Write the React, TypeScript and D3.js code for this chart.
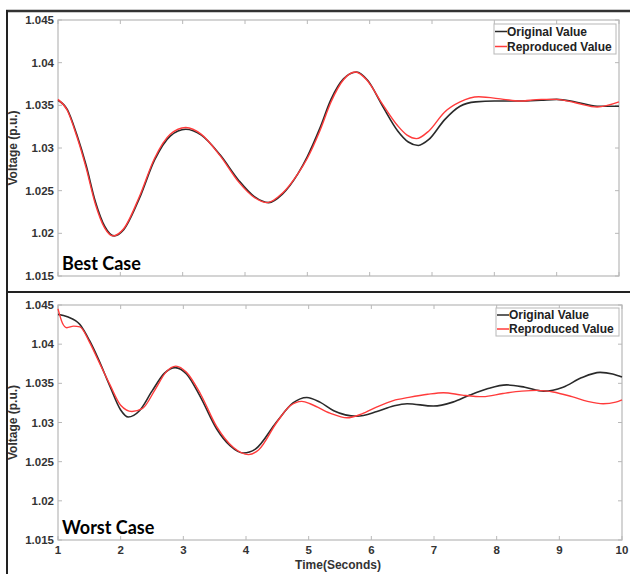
import React from "react";
import * as d3 from "d3";

// ---- Data ----
const yTicks = [1.015, 1.02, 1.025, 1.03, 1.035, 1.04, 1.045];
const yTickLabels = ["1.015", "1.02", "1.025", "1.03", "1.035", "1.04", "1.045"];
const xTicks = [1, 2, 3, 4, 5, 6, 7, 8, 9, 10];
const seriesNames = ["Original Value", "Reproduced Value"];

// Best case: [time, voltage]
const bestOriginal: [number, number][] = [
  [1.0, 1.0356], [1.15, 1.0345], [1.3, 1.0316], [1.45, 1.0280], [1.6, 1.0237], [1.75, 1.0208], [1.9, 1.0197],
  [2.05, 1.0204], [2.3, 1.0240], [2.55, 1.0286], [2.8, 1.0314], [3.05, 1.0322], [3.3, 1.0315],
  [3.6, 1.0292], [3.9, 1.0262], [4.15, 1.0243], [4.38, 1.0236], [4.6, 1.0246], [4.85, 1.0270],
  [5.0, 1.0290], [5.2, 1.0323], [5.38, 1.0357], [5.58, 1.0381], [5.79, 1.0389], [5.97, 1.0379], [6.2, 1.0350],
  [6.45, 1.0320], [6.62, 1.0307], [6.78, 1.0303], [6.95, 1.0310], [7.2, 1.0333], [7.45, 1.0349],
  [7.7, 1.0354], [8.0, 1.0355], [8.4, 1.0355], [8.75, 1.0356], [9.0, 1.0357], [9.3, 1.0354],
  [9.65, 1.0349], [10.0, 1.0349],
];
const bestReproduced: [number, number][] = [
  [1.0, 1.0357], [1.15, 1.0344], [1.3, 1.0314], [1.45, 1.0277], [1.6, 1.0234], [1.75, 1.0206], [1.88, 1.0197],
  [2.05, 1.0205], [2.3, 1.0242], [2.55, 1.0288], [2.8, 1.0316], [3.05, 1.0324], [3.3, 1.0316],
  [3.6, 1.0291], [3.9, 1.0260], [4.15, 1.0242], [4.36, 1.0236], [4.6, 1.0247], [4.85, 1.0270],
  [5.0, 1.0288], [5.2, 1.0320], [5.38, 1.0354], [5.58, 1.0380], [5.77, 1.0389], [5.95, 1.0380], [6.2, 1.0352],
  [6.45, 1.0326], [6.6, 1.0315], [6.75, 1.0311], [6.95, 1.0320], [7.2, 1.0342], [7.45, 1.0354],
  [7.75, 1.0360], [8.15, 1.0357], [8.4, 1.0355], [8.75, 1.0357], [9.0, 1.0357],
  [9.3, 1.0353], [9.65, 1.0348], [10.0, 1.0354],
];

// Worst case
const worstOriginal: [number, number][] = [
  [1.0, 1.0438], [1.15, 1.0435], [1.35, 1.0425], [1.5, 1.0405], [1.65, 1.0380], [1.83, 1.0346],
  [2.0, 1.0316], [2.12, 1.0307], [2.3, 1.0315], [2.5, 1.0340], [2.7, 1.0363], [2.87, 1.0370],
  [3.05, 1.0362], [3.27, 1.0333], [3.53, 1.0292], [3.75, 1.0270], [3.96, 1.0261], [4.15, 1.0266],
  [4.49, 1.0301], [4.75, 1.0325], [4.97, 1.0332], [5.18, 1.0326], [5.4, 1.0315], [5.77, 1.0308],
  [6.09, 1.0314], [6.35, 1.0321], [6.57, 1.0324], [6.99, 1.0321], [7.3, 1.0326], [7.57, 1.0335],
  [7.85, 1.0343], [8.16, 1.0348], [8.45, 1.0345], [8.75, 1.0340], [9.06, 1.0345], [9.35, 1.0357],
  [9.65, 1.0364], [9.85, 1.0362], [10.0, 1.0358],
];
const worstReproduced: [number, number][] = [
  [1.0, 1.0445], [1.07, 1.0427], [1.14, 1.0421], [1.25, 1.0423], [1.35, 1.0422], [1.5, 1.0403],
  [1.65, 1.0378], [1.83, 1.0348], [2.0, 1.0322], [2.18, 1.0314], [2.35, 1.0318], [2.55, 1.0342],
  [2.72, 1.0364], [2.88, 1.0372], [3.05, 1.0364], [3.27, 1.0337], [3.53, 1.0295], [3.8, 1.0268],
  [4.04, 1.0259], [4.2, 1.0265], [4.49, 1.0300], [4.7, 1.0321], [4.89, 1.0327], [5.05, 1.0323],
  [5.34, 1.0312], [5.61, 1.0306], [5.85, 1.0311], [6.09, 1.0320], [6.35, 1.0328], [6.6, 1.0332],
  [6.9, 1.0336], [7.15, 1.0338], [7.45, 1.0335], [7.78, 1.0333], [8.1, 1.0337], [8.4, 1.0340],
  [8.65, 1.0341], [8.9, 1.0339], [9.2, 1.0333], [9.45, 1.0327], [9.7, 1.0324], [9.9, 1.0326],
  [10.0, 1.0329],
];

const BLACK = "#2a2a2a";
const RED = "#ff3b3b";
const AXIS = "#b8b8b8";
const TEXT = "#333";
const FONT = "'Liberation Sans', Arial, sans-serif";

type PanelProps = {
  x0: number; x1: number; y0: number; y1: number;
  orig: [number, number][]; repro: [number, number][];
  caseLabel: string; showXLabels: boolean;
  legend: { x: number; y: number; w: number; h: number };
};

function Panel({ x0, x1, y0, y1, orig, repro, caseLabel, showXLabels, legend }: PanelProps) {
  const xs = d3.scaleLinear().domain([1, 10]).range([x0, x1]);
  const ys = d3.scaleLinear().domain([1.015, 1.045]).range([y1, y0]);
  const line = d3
    .line<[number, number]>()
    .x((d) => xs(d[0]))
    .y((d) => ys(d[1]))
    .curve(d3.curveMonotoneX);
  const tl = 4;
  const rowH = legend.h / 2;
  return (
    <g>
      <rect x={x0} y={y0} width={x1 - x0} height={y1 - y0} fill="#fff" stroke={AXIS} strokeWidth={1.2} />
      {xTicks.map((t) => (
        <g key={"xt" + t}>
          <line x1={xs(t)} x2={xs(t)} y1={y1} y2={y1 - tl} stroke={AXIS} />
          <line x1={xs(t)} x2={xs(t)} y1={y0} y2={y0 + tl} stroke={AXIS} />
          {showXLabels && (
            <text x={xs(t)} y={y1 + 14} textAnchor="middle" fontFamily={FONT} fontWeight="bold" fontSize={11.5} fill={TEXT}>
              {t}
            </text>
          )}
        </g>
      ))}
      {yTicks.map((v, i) => (
        <g key={"yt" + v}>
          <line x1={x0} x2={x0 + tl} y1={ys(v)} y2={ys(v)} stroke={AXIS} />
          <line x1={x1} x2={x1 - tl} y1={ys(v)} y2={ys(v)} stroke={AXIS} />
          <text x={x0 - 4} y={ys(v) + 4} textAnchor="end" fontFamily={FONT} fontWeight="bold" fontSize={11.5} fill={TEXT}>
            {yTickLabels[i]}
          </text>
        </g>
      ))}
      <path d={line(orig) || ""} fill="none" stroke={BLACK} strokeWidth={1.6} />
      <path d={line(repro) || ""} fill="none" stroke={RED} strokeWidth={1.4} />
      <text
        transform={`translate(${x0 - 41},${(y0 + y1) / 2}) rotate(-90)`}
        textAnchor="middle"
        fontFamily={FONT}
        fontWeight="bold"
        fontSize={12}
        fill={TEXT}
      >
        Voltage (p.u.)
      </text>
      <text x={x0 + 4} y={y1 - 6} fontFamily="Lato, 'Open Sans', sans-serif" fontWeight="bold" fontSize={18} fill="#000">
        {caseLabel}
      </text>
      <rect x={legend.x} y={legend.y} width={legend.w} height={legend.h} fill="#fff" stroke={AXIS} strokeWidth={1} />
      {seriesNames.map((n, i) => {
        const cy = legend.y + rowH * (i + 0.5);
        return (
          <g key={n}>
            <line x1={legend.x + 1} x2={legend.x + 13} y1={cy} y2={cy} stroke={i === 0 ? BLACK : RED} strokeWidth={1.5} />
            <text x={legend.x + 13} y={cy + 4} fontFamily={FONT} fontWeight="bold" fontSize={12} fill="#222">
              {n}
            </text>
          </g>
        );
      })}
    </g>
  );
}

export default function App() {
  return (
    <svg width={630} height={574} style={{ position: "absolute", left: 0, top: 0, background: "#fff" }}>
      <rect x={0} y={0} width={630} height={574} fill="#fff" />
      <Panel
        x0={58} x1={619} y0={20} y1={276}
        orig={bestOriginal} repro={bestReproduced}
        caseLabel="Best Case" showXLabels={false}
        legend={{ x: 494, y: 24, w: 122, h: 30 }}
      />
      <Panel
        x0={58} x1={622} y0={305} y1={540}
        orig={worstOriginal} repro={worstReproduced}
        caseLabel="Worst Case" showXLabels={true}
        legend={{ x: 496, y: 308, w: 123, h: 28 }}
      />
      <text x={338} y={569} textAnchor="middle" fontFamily={FONT} fontWeight="bold" fontSize={12} fill={TEXT}>
        Time(Seconds)
      </text>
      <line x1={6} x2={630} y1={11} y2={11} stroke="#333" strokeWidth={2.5} />
      <line x1={7} x2={7} y1={10} y2={574} stroke="#222" strokeWidth={2} />
      <line x1={6} x2={630} y1={292} y2={292} stroke="#222" strokeWidth={2} />
    </svg>
  );
}
